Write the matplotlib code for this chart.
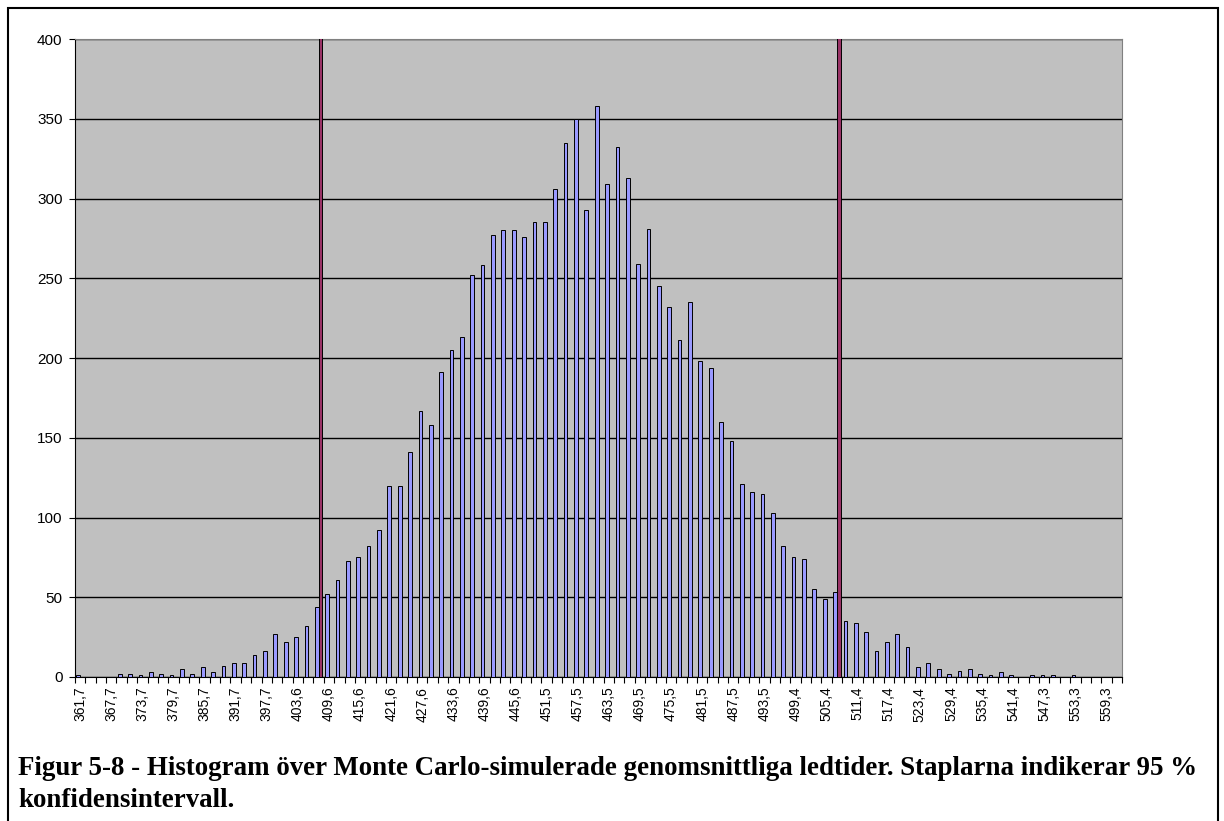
import numpy as np
import matplotlib.pyplot as plt
from matplotlib.patches import Rectangle

# antal simuleringar per klass (101 klasser, 361,7 ... 561,3)
counts = [1, 0, 0, 0, 2, 2, 1, 3, 2, 1,
          5, 2, 6, 3, 7, 9, 9, 14, 16, 27,
          22, 25, 32, 44, 52, 61, 73, 75, 82, 92,
          120, 120, 141, 167, 158, 191, 205, 213, 252, 258,
          277, 280, 280, 276, 285, 285, 306, 335, 350, 293,
          358, 309, 332, 313, 259, 281, 245, 232, 211, 235,
          198, 194, 160, 148, 121, 116, 115, 103, 82, 75,
          74, 55, 49, 53, 35, 34, 28, 16, 22, 27,
          19, 6, 9, 5, 2, 4, 5, 2, 1, 3,
          1, 0, 1, 1, 1, 0, 1, 0, 0, 0, 0]

tick_labels = ["361,7", "367,7", "373,7", "379,7", "385,7", "391,7", "397,7",
               "403,6", "409,6", "415,6", "421,6", "427,6", "433,6", "439,6",
               "445,6", "451,5", "457,5", "463,5", "469,5", "475,5", "481,5",
               "487,5", "493,5", "499,4", "505,4", "511,4", "517,4", "523,4",
               "529,4", "535,4", "541,4", "547,3", "553,3", "559,3"]

# 95 % konfidensintervall (andra serien)
ci_bins = [23, 73]
ci_height = 420

caption1 = "Figur 5-8 - Histogram över Monte Carlo-simulerade genomsnittliga ledtider. Staplarna indikerar 95 %"
caption2 = "konfidensintervall."

W, H = 1224, 821
fig = plt.figure(figsize=(W / 100, H / 100), dpi=100)
ax = fig.add_axes([75 / W, 1 - 677 / H, 1047 / W, 638 / H])

x = np.arange(len(counts))
w = 0.36
ci = np.zeros(len(counts))
ci[ci_bins] = ci_height

ax.bar(x - w / 2, counts, width=w, color='#9999FF', edgecolor='black', linewidth=0.7, zorder=3)
ax.bar(x + w / 2, ci, width=w, color='#993366', edgecolor='black', linewidth=0.7, zorder=3)

ax.set_facecolor('#C0C0C0')
ax.set_xlim(-0.5, len(counts) - 0.5)
ax.set_ylim(0, 400)
ax.set_yticks(np.arange(0, 401, 50))
ax.yaxis.grid(True, color='black', linewidth=1.0, zorder=1)
ax.set_axisbelow(True)

ax.set_xticks(x[::3])
ax.set_xticklabels(tick_labels, rotation=90, fontsize=10, family='Liberation Sans')
ax.set_xticks(np.arange(-0.5, len(counts), 1), minor=True)
ax.tick_params(axis='x', which='major', length=0, pad=7)
ax.tick_params(axis='x', which='minor', length=4, width=0.8, direction='out')
ax.tick_params(axis='y', length=4, width=0.8, pad=5, labelsize=11)
for t in ax.get_yticklabels():
    t.set_family('Liberation Sans')

for s in ['top', 'right']:
    ax.spines[s].set_color('#808080')
for s in ['left', 'bottom']:
    ax.spines[s].set_color('black')

# ram runt figuren
fig.patches.append(Rectangle((8 / W, -0.05), (1218 - 8) / W, 1.05 - 8 / H,
                             transform=fig.transFigure, fill=False,
                             edgecolor='black', linewidth=1.5))

fig.text(18 / W, 1 - 768 / H, caption1, fontsize=19.4, fontweight='bold',
         family='Liberation Serif', va='center', ha='left')
fig.text(18 / W, 1 - 800 / H, caption2, fontsize=19.4, fontweight='bold',
         family='Liberation Serif', va='center', ha='left')

fig.savefig('out.png', dpi=100)
